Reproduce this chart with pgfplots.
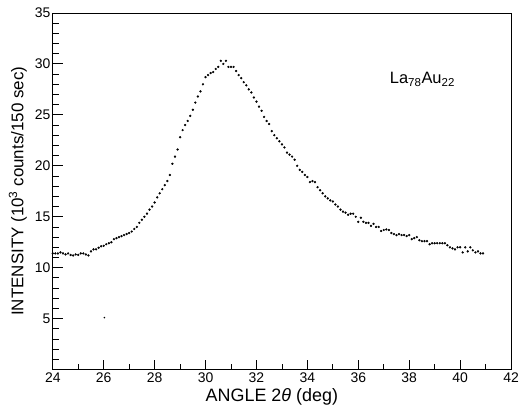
\documentclass[border=0pt]{standalone}
\usepackage{pgfplots}
\pgfplotsset{compat=1.18}
\usepackage{fontspec}
\setmainfont{Liberation Sans}
\pgfplotstableread{
x y
24.0 11.4
24.1 11.4
24.2 11.4
24.3 11.5
24.4 11.4
24.5 11.3
24.6 11.4
24.7 11.25
24.8 11.2
24.9 11.3
25.0 11.25
25.1 11.4
25.2 11.4
25.3 11.3
25.4 11.2
25.5 11.6
25.6 11.8
25.7 11.8
25.8 11.95
25.9 12.1
26.0 12.15
26.1 12.3
26.2 12.4
26.3 12.5
26.4 12.8
26.5 12.9
26.6 13.0
26.7 13.1
26.8 13.2
26.9 13.3
27.0 13.4
27.1 13.55
27.2 13.8
27.3 14.0
27.4 14.4
27.5 14.7
27.6 15.0
27.7 15.3
27.8 15.7
27.9 16.0
28.0 16.4
28.1 16.9
28.2 17.3
28.3 17.7
28.4 18.1
28.5 18.5
28.6 19.1
28.7 20.2
28.8 20.9
28.9 21.6
29.0 22.8
29.1 23.5
29.2 24.0
29.3 24.4
29.4 24.9
29.5 25.5
29.6 26.2
29.7 26.8
29.8 27.3
29.9 28.0
30.0 28.7
30.1 28.9
30.2 29.1
30.3 29.2
30.4 29.5
30.5 29.7
30.6 30.3
30.7 30.0
30.8 30.3
30.9 29.7
31.0 29.7
31.1 29.7
31.2 29.3
31.3 28.9
31.4 28.6
31.5 28.2
31.6 27.9
31.7 27.5
31.8 27.2
31.9 26.7
32.0 26.3
32.1 25.8
32.2 25.4
32.3 24.8
32.4 24.4
32.5 24.1
32.6 23.4
32.7 23.0
32.8 22.7
32.9 22.4
33.0 22.1
33.1 21.8
33.2 21.3
33.3 21.1
33.4 20.9
33.5 20.6
33.6 20.0
33.7 19.6
33.8 19.4
33.9 19.1
34.0 18.9
34.1 18.4
34.2 18.5
34.3 18.4
34.4 17.9
34.5 17.6
34.6 17.3
34.7 17.0
34.8 16.8
34.9 16.6
35.0 16.5
35.1 16.2
35.2 16.0
35.3 15.7
35.4 15.5
35.5 15.4
35.6 15.2
35.7 15.3
35.8 15.3
35.9 15.0
36.0 14.5
36.1 14.9
36.2 14.5
36.3 14.4
36.4 14.4
36.5 14.1
36.6 14.3
36.7 14.0
36.8 14.0
36.9 13.6
37.0 13.7
37.1 13.75
37.2 13.7
37.3 13.4
37.4 13.3
37.5 13.2
37.6 13.3
37.7 13.2
37.8 13.2
37.9 13.1
38.0 13.2
38.1 12.8
38.2 12.9
38.3 13.0
38.4 12.7
38.5 12.6
38.6 12.6
38.7 12.6
38.8 12.3
38.9 12.4
39.0 12.4
39.1 12.4
39.2 12.4
39.3 12.4
39.4 12.4
39.5 12.2
39.6 12.0
39.7 11.9
39.8 11.8
39.9 12.0
40.0 12.0
40.1 11.5
40.2 12.0
40.3 11.6
40.4 12.0
40.5 11.7
40.6 11.5
40.7 11.6
40.8 11.4
40.9 11.4
}\datatable
\begin{document}
\begin{tikzpicture}
\path[use as bounding box] (-53bp,-42bp) rectangle (470bp,371bp);
\begin{axis}[
  at={(0,0)}, anchor=south west,
  scale only axis,
  width=460bp, height=358bp,
  xmin=24, xmax=42, ymin=0, ymax=35,
  xtick={24,26,...,42},
  ytick={5,10,...,35},
  minor xtick={25,27,...,41},
  minor ytick={1,...,34},
  xtick pos=left, ytick pos=left,
  tick align=inside,
  major tick length=10bp,
  minor tick length=6bp,
  every tick/.style={black, line width=0.8bp},
  axis line style={line width=0.8bp},
  /pgf/number format/assume math mode=true,
  tick label style={font=\fontsize{14bp}{16bp}\selectfont},
  yticklabel style={xshift=1bp},
  xlabel={ANGLE 2\textit{θ} (deg)},
  ylabel={INTENSITY (10\textsuperscript{3} counts/150 sec)},
  xlabel style={font=\fontsize{18bp}{20bp}\selectfont, at={(axis description cs:0.478,0)}, anchor=center, yshift=-27bp},
  ylabel style={font=\fontsize{17bp}{20bp}\selectfont, at={(axis description cs:-0.076,0.5)}, anchor=center},
]
\addplot[only marks, mark=*, mark size=0.95bp, black] table[x=x,y=y] {\datatable};
\addplot[only marks, mark=*, mark size=0.6bp, black] coordinates {(26.03,5.1)};
\node[font=\fontsize{16.5bp}{18bp}\selectfont] at (axis cs:38.52,28.5) {La\textsubscript{78}Au\textsubscript{22}};
\end{axis}
\end{tikzpicture}
\end{document}
